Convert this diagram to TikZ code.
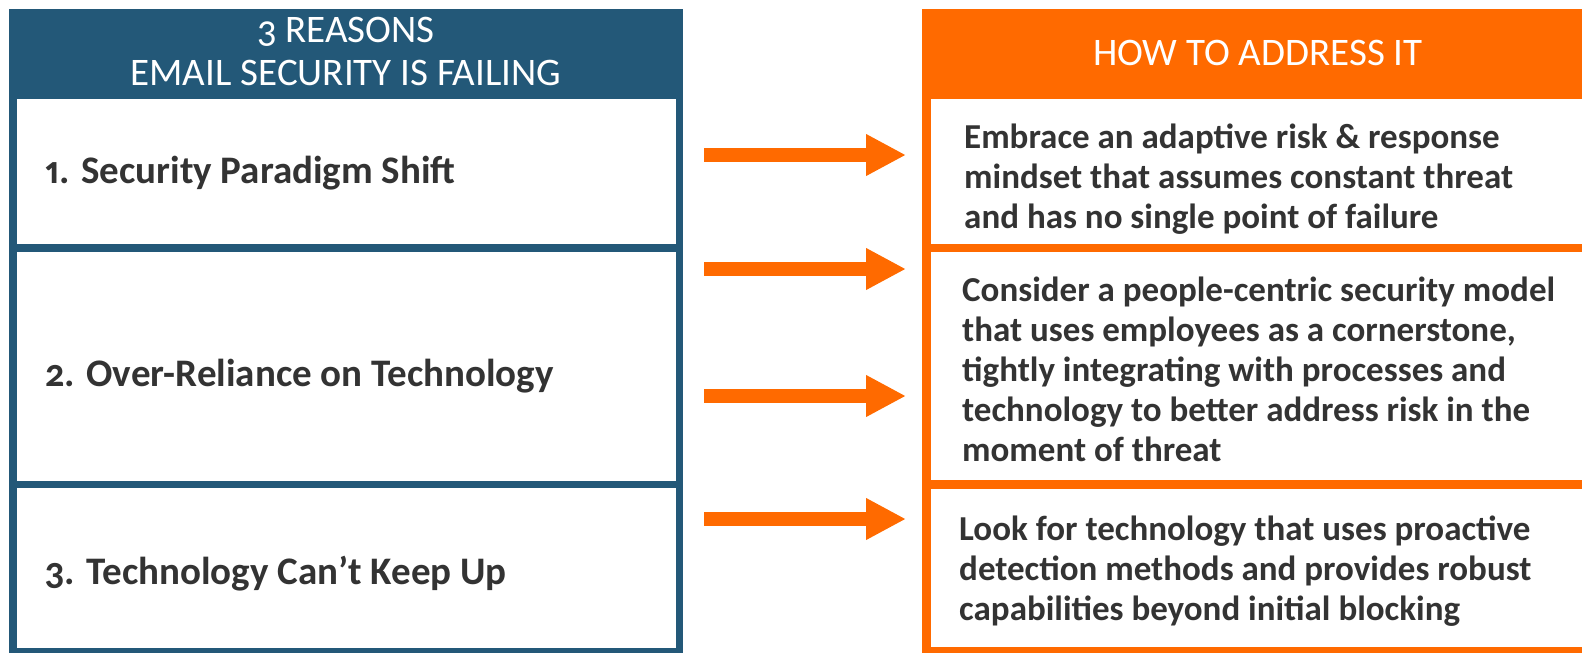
\documentclass[tikz,border=0pt]{standalone}
\usepackage{fontspec}
\setmainfont{Carlito}
\usetikzlibrary{arrows.meta}

\definecolor{navy}{HTML}{235878}
\definecolor{tang}{HTML}{FF6A00}
\definecolor{ink}{HTML}{333333}

\newcommand{\fig}[1]{{\addfontfeatures{Numbers={OldStyle,Proportional}}#1}}

\tikzset{
  headbar/.style={inner sep=0pt, anchor=north west, minimum height=90pt},
  headtext/.style={inner sep=0pt, anchor=base, text=white,
    font=\fontsize{39}{44}\selectfont},
  leftbox/.style={draw=navy, line width=7.5pt, fill=white, inner sep=0pt,
    minimum width=666.5pt},
  rightbox/.style={draw=tang, line width=8.5pt, fill=white, inner sep=0pt,
    minimum width=673.5pt},
  reason/.style={inner sep=0pt, anchor=base west, text=ink,
    font=\bfseries\fontsize{39}{44}\selectfont},
  % multi-line remedies are placed by the baseline of their last line
  remedy/.style={inner sep=0pt, anchor=base west, text=ink, align=left,
    font=\bfseries\fontsize{35}{40}\selectfont},
  blockarrow/.style={draw=tang, line width=14pt,
    -{Triangle[length=40pt, width=39pt]}},
}

\begin{document}
\begin{tikzpicture}[x=1pt, y=-1pt]
  \useasboundingbox (0,0) rectangle (1582,653);
  \clip (0,0) rectangle (1582,653);

  % left column: the three reasons
  \node[leftbox, minimum height=153pt]   (r1) at (346.25,171.5) {};
  \node[leftbox, minimum height=236.5pt] (r2) at (346.25,366.25) {};
  \node[leftbox, minimum height=167pt]   (r3) at (346.25,568) {};
  \node[headbar, fill=navy, minimum width=674pt] (lhead) at (9,9) {};
  \node[headtext] (lh1) at (346,42) {\fig{3} REASONS};
  \node[headtext] (lh2) at (346,85) {EMAIL SECURITY IS FAILING};

  \node[reason] (t1) at (45,183) {\fig{1}. Security Paradigm Shift};
  \node[reason] (t2) at (45,386) {\fig{2}. Over-Reliance on Technology};
  \node[reason] (t3) at (45,584) {\fig{3}. Technology Can’t Keep Up};

  % right column: how to address it
  \node[rightbox, minimum height=153pt]   (a1) at (1263.25,171.5) {};
  \node[rightbox, minimum height=236.5pt] (a2) at (1263.25,366.25) {};
  \node[rightbox, minimum height=167pt]   (a3) at (1263.25,568) {};
  \node[headbar, fill=tang, minimum width=680pt] (rhead) at (922,9) {};
  \node[headtext] (rh) at (1258,65) {HOW TO ADDRESS IT};

  \node[remedy] (m1) at (964,228)
    {Embrace an adaptive risk \& response\\
     mindset that assumes constant threat\\and has no single point of failure};
  \node[remedy] (m2) at (962,461) {Consider a people-centric security model\\
    that uses employees as a cornerstone,\\tightly integrating with processes and\\
    technology to better address risk in the\\moment of threat};
  \node[remedy] (m3) at (959,620) {Look for technology that uses proactive\\
    detection methods and provides robust\\capabilities beyond initial blocking};

  % arrows between the columns
  \coordinate (s1) at (704,155); \coordinate (e1) at (906,155);
  \coordinate (s2) at (704,269); \coordinate (e2) at (906,269);
  \coordinate (s3) at (704,396); \coordinate (e3) at (906,396);
  \coordinate (s4) at (704,519); \coordinate (e4) at (906,519);
  \draw[blockarrow] (s1) -- (e1);
  \draw[blockarrow] (s2) -- (e2);
  \draw[blockarrow] (s3) -- (e3);
  \draw[blockarrow] (s4) -- (e4);
\end{tikzpicture}
\end{document}
